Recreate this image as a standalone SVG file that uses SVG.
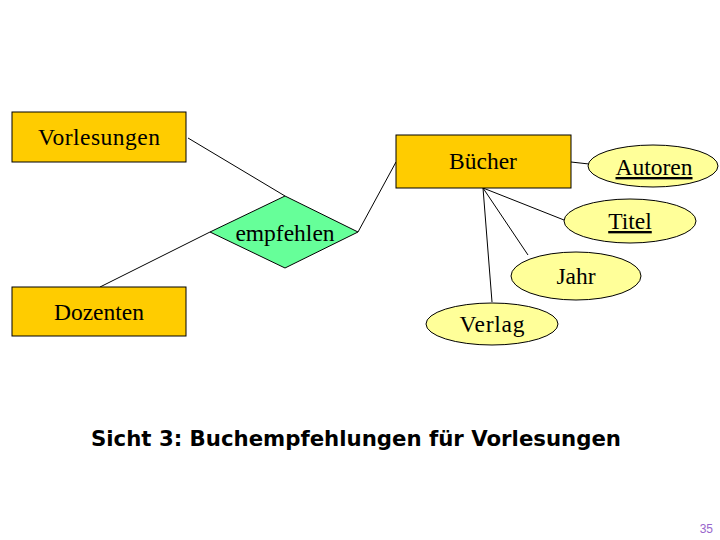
<svg xmlns="http://www.w3.org/2000/svg" width="720" height="540" viewBox="0 0 720 540">
<style>
.ent{fill:#FFCC00;stroke:#000;stroke-width:1}
.rel{fill:#66FF99;stroke:#000;stroke-width:1}
.att{fill:#FFFF99;stroke:#000;stroke-width:1}
.lbl{font-family:"Liberation Serif","Times New Roman",serif;font-size:23.5px;fill:#000;text-anchor:middle}
.u{text-decoration:underline}
.con line{stroke:#000;stroke-width:1}
</style>
<rect width="720" height="540" fill="#fff"/>
<g class="con">
<line x1="188" y1="138" x2="285" y2="196"/>
<line x1="210" y1="232" x2="100" y2="287"/>
<line x1="358" y1="232" x2="396" y2="162"/>
<line x1="571" y1="162" x2="589" y2="164"/>
<line x1="483" y1="188" x2="564" y2="220"/>
<line x1="483" y1="188" x2="528" y2="255"/>
<line x1="483" y1="188" x2="492" y2="302"/>
</g>
<g id="vorlesungen"><rect class="ent" x="12" y="112" width="174" height="50"/><text class="lbl" x="99" y="145" textLength="122" lengthAdjust="spacing">Vorlesungen</text></g>
<g id="empfehlen"><polygon class="rel" points="285,196 358,232 285,268 210,232"/><text class="lbl" x="285" y="241">empfehlen</text></g>
<g id="dozenten"><rect class="ent" x="12" y="287" width="174" height="49"/><text class="lbl" x="99" y="320">Dozenten</text></g>
<g id="buecher"><rect class="ent" x="396" y="135" width="175" height="53"/><text class="lbl" x="483" y="169">Bücher</text></g>
<g id="autoren"><ellipse class="att" cx="653" cy="166" rx="65" ry="21"/><text class="lbl u" x="654" y="175">Autoren</text></g>
<g id="titel"><ellipse class="att" cx="630" cy="221" rx="66" ry="22"/><text class="lbl u" x="630" y="229">Titel</text></g>
<g id="jahr"><ellipse class="att" cx="576" cy="276" rx="65" ry="24"/><text class="lbl" x="576" y="284">Jahr</text></g>
<g id="verlag"><ellipse class="att" cx="492" cy="324" rx="66" ry="21"/><text class="lbl" x="492" y="332" textLength="65" lengthAdjust="spacing">Verlag</text></g>
<text x="91" y="446" font-family="'DejaVu Sans',Verdana,sans-serif" font-weight="bold" font-size="21" textLength="530" lengthAdjust="spacingAndGlyphs">Sicht 3: Buchempfehlungen für Vorlesungen</text>
<text x="713" y="533" font-family="'Liberation Sans',Arial,sans-serif" font-size="12" fill="#9966CC" text-anchor="end">35</text>
</svg>
